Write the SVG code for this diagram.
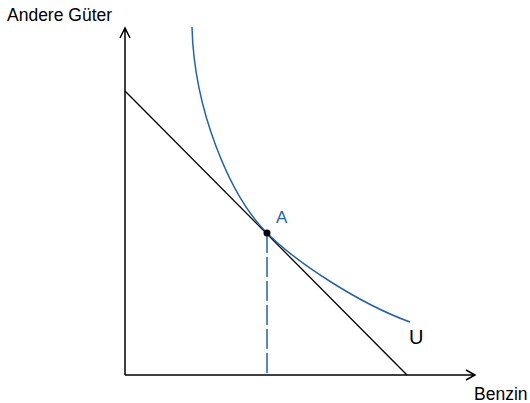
<svg xmlns="http://www.w3.org/2000/svg" width="530" height="403" viewBox="0 0 530 403">
<style>
.ax{stroke:#000;stroke-width:1.5;fill:none}
.blue{stroke:#1f63b0;stroke-width:1.5;fill:none}
.t{font-family:"Liberation Sans",Arial,sans-serif;font-size:17.5px;fill:#000}
</style>
<rect width="530" height="403" fill="#fff"/>
<g id="axes">
<path class="ax" d="M125,375 V28 M120,38 L125,28 L130,38"/>
<path class="ax" d="M125,375 H475 M466,370 L475,375 L466,380"/>
<text class="t" x="7" y="21">Andere Güter</text>
<text class="t" x="474" y="400">Benzin</text>
</g>
<g id="connectors">
<line id="budget" x1="125" y1="91" x2="407" y2="375" stroke="#000" stroke-width="1.3"/>
<path id="U-curve" class="blue" d="M192,27 C194,110 230,196 267,233 C297,263 360,304 410,322"/>
<line id="dash" x1="267" y1="233" x2="267" y2="375" class="blue" stroke-dasharray="20 4"/>
</g>
<g id="point-A">
<circle cx="267" cy="233" r="3.5" fill="#000"/>
<text x="276" y="223" font-family="Liberation Sans,Arial,sans-serif" font-size="17" fill="#1f63b0">A</text>
</g>
<g id="label-U">
<text x="409" y="344" font-family="Liberation Sans,Arial,sans-serif" font-size="20" fill="#000">U</text>
</g>
</svg>
